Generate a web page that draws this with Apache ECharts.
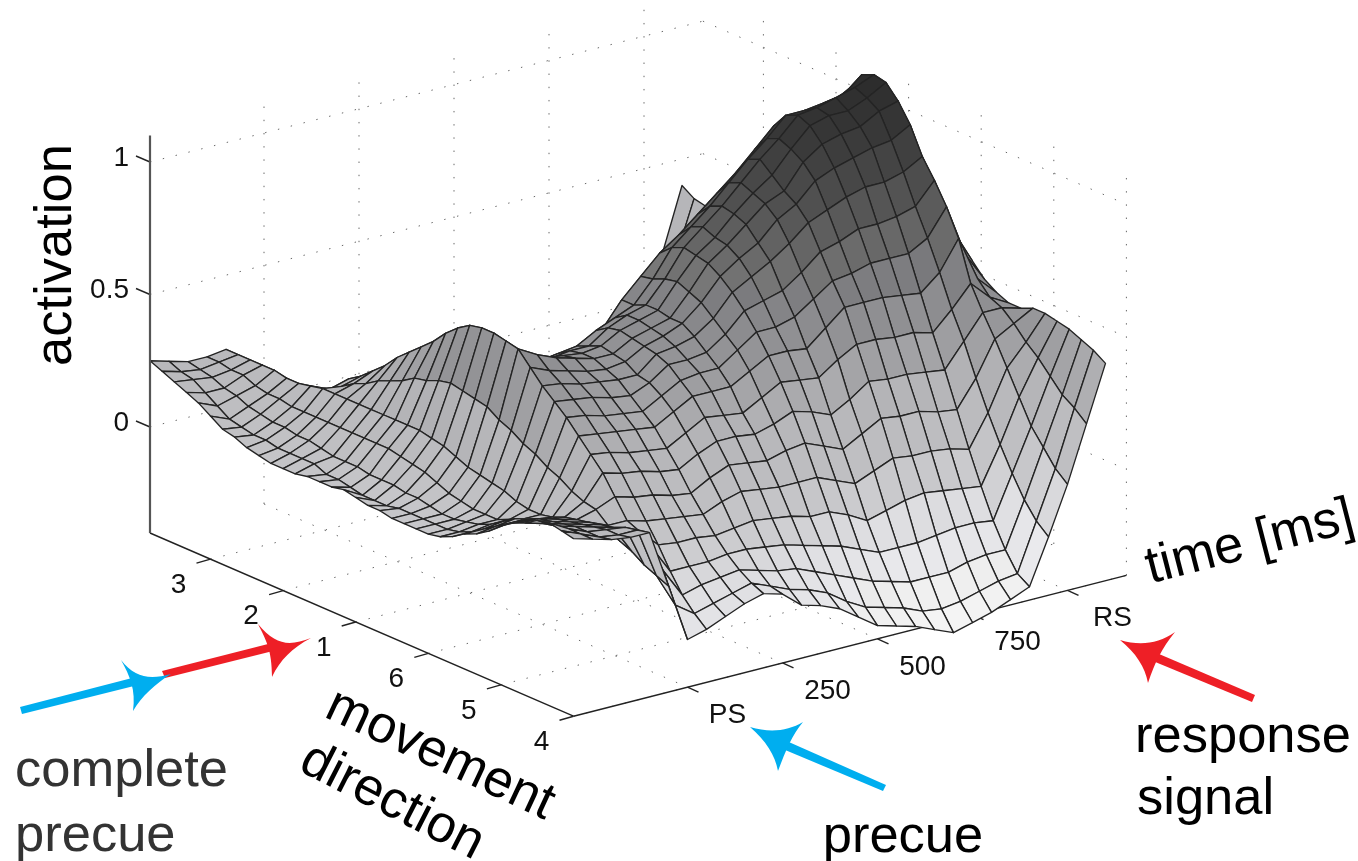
<!DOCTYPE html>
<html><head><meta charset="utf-8">
<style>html,body{margin:0;padding:0;background:#fff}#c{width:1358px;height:861px}</style>
<script src="https://cdn.jsdelivr.net/npm/echarts@6/dist/echarts.min.js"></script>
</head><body><div id="c"></div>
<script>
// activation x 100; one row per movement-direction step (36), one column per 50 ms time bin (29, from -300 ms)
const d00=[25,23,21,21,22,14,9,2,0,-3,-6,-6,-5,-3,-1,2,3,2,-2,-8,-14,-16,-15,-12,-7,0,8,17,40];
const d01=[23,21,20,21,22,14,7,2,1,-2,-4,-4,-3,-1,2,4,4,3,-2,-7,-12,-13,-11,-7,-2,4,10,16,37];
const d02=[21,20,19,20,22,13,6,2,2,1,-1,0,2,4,6,6,5,3,-2,-6,-10,-9,-6,-2,4,10,16,20,36];
const d03=[19,17,17,20,22,14,7,3,3,4,4,5,7,9,10,9,6,3,-2,-5,-7,-4,1,7,13,19,26,31,40];
const d04=[17,14,16,18,22,14,9,3,5,7,8,10,12,13,14,11,7,2,-3,-5,-3,2,9,15,22,28,34,40,46];
const d05=[14,11,14,17,21,15,12,6,8,10,12,14,16,16,15,12,7,2,0,0,2,7,14,21,27,33,39,45,51];
const d06=[11,10,13,17,21,16,16,10,12,14,16,18,20,20,17,12,6,4,4,6,11,16,23,30,36,42,47,53,59];
const d07=[10,9,12,16,22,19,21,14,16,18,20,22,23,22,16,10,6,6,7,11,17,24,30,37,43,49,55,61,67];
const d08=[8,9,12,16,23,22,24,18,20,23,25,26,26,20,15,10,8,8,12,17,24,31,37,44,50,57,63,69,75];
const d09=[7,8,11,16,23,25,28,22,24,26,28,28,26,21,14,12,12,14,18,24,31,37,44,51,57,63,69,76,79];
const d10=[6,8,11,16,23,27,32,26,29,31,32,30,25,19,15,15,16,19,25,31,38,44,51,57,63,69,76,81,83];
const d11=[6,8,10,16,23,30,37,31,33,34,33,29,23,19,18,18,21,25,31,38,44,50,57,63,69,75,82,85,86];
const d12=[6,8,9,16,23,32,41,37,37,37,37,30,25,22,21,23,26,34,42,48,54,60,65,71,78,84,89,90,90];
const d13=[7,6,9,16,23,34,45,40,42,41,36,29,25,24,25,28,34,40,47,53,59,65,71,78,84,89,90,91,92];
const d14=[7,6,9,16,23,37,49,44,44,40,34,28,26,27,28,33,41,48,54,60,66,72,78,85,90,93,95,96,97];
const d15=[7,5,8,16,23,38,54,47,45,39,32,30,30,31,35,41,49,56,61,67,73,79,86,92,96,97,98,100,100];
const d16=[8,4,8,15,23,40,58,50,45,38,34,34,35,38,42,48,55,62,68,74,80,86,92,96,99,100,100,98,92];
const d17=[7,4,8,14,22,41,61,54,46,41,41,41,43,47,56,63,70,75,81,87,93,100,107,109,109,110,114,109,104];
const d18=[6,4,7,13,21,40,62,54,47,44,45,46,50,53,56,64,74,80,86,93,100,106,113,113,114,115,121,115,102];
const d19=[6,5,7,11,19,39,62,53,48,47,48,48,53,56,58,66,76,82,88,95,102,108,115,116,118,120,123,111,96];
const d20=[5,5,6,9,17,38,61,54,51,50,49,50,54,56,58,67,75,80,87,93,98,106,113,115,115,118,122,106,85];
const d21=[5,5,5,8,16,35,60,56,53,51,49,49,53,55,57,65,74,79,85,91,94,103,108,110,111,115,117,97,78];
const d22=[5,5,5,7,15,33,55,52,50,48,47,48,52,54,57,63,71,76,80,87,91,98,101,103,105,106,110,88,68];
const d23=[5,5,6,7,14,30,50,49,47,46,45,45,51,52,54,59,67,71,75,80,86,89,92,94,94,96,100,80,63];
const d24=[6,6,7,7,12,28,46,45,44,42,41,44,49,49,50,55,62,64,66,71,77,79,82,82,83,85,93,72,59];
const d25=[8,8,9,9,11,25,42,41,39,38,37,41,45,46,46,51,56,56,58,63,68,69,71,71,71,75,85,65,54];
const d26=[11,11,12,11,11,23,37,36,35,34,33,37,41,41,41,45,49,49,48,54,60,60,60,59,58,64,75,58,51];
const d27=[13,14,15,13,12,20,32,31,29,28,27,31,35,34,33,37,41,40,39,44,48,48,47,47,45,52,60,53,49];
const d28=[16,17,17,15,14,18,27,25,24,22,21,25,28,28,27,29,32,30,27,31,36,35,35,34,33,42,51,51,49];
const d29=[20,20,19,17,15,17,20,18,17,15,14,18,21,20,19,21,22,19,16,20,24,23,23,21,20,30,43,47,51];
const d30=[23,22,20,18,16,13,13,11,10,9,8,11,13,12,11,11,11,8,5,8,11,10,10,9,7,19,34,42,51];
const d31=[25,23,21,19,17,9,11,4,3,3,2,3,4,3,2,0,0,-3,-7,-5,-3,-2,-3,-4,-5,9,25,38,50];
const d32=[28,24,22,20,18,7,7,-4,-4,-4,-3,-3,-4,-5,-7,-9,-11,-14,-17,-17,-17,-16,-15,-15,-16,0,16,33,49];
const d33=[29,25,22,21,20,4,0,-11,-9,-8,-7,-9,-11,-12,-15,-18,-21,-24,-26,-28,-28,-28,-26,-25,-25,-8,10,28,47];
const d34=[28,25,22,21,21,2,-11,-16,-14,-12,-10,-13,-16,-18,-21,-26,-30,-32,-34,-37,-38,-37,-35,-33,-32,-14,4,25,45];
const d35=[27,25,23,22,22,0,-22,-20,-17,-14,-12,-14,-20,-22,-25,-30,-35,-37,-39,-42,-45,-43,-41,-38,-35,-18,0,21,42];
const surface=[d00,d01,d02,d03,d04,d05,d06,d07,d08,d09,d10,d11,d12,d13,d14,d15,d16,d17,d18,d19,d20,d21,d22,d23,d24,d25,d26,d27,d28,d29,d30,d31,d32,d33,d34,d35];

const activationTicks=[0,0.5,1];
const activationLabels=['0','0.5','1'];
const timeTicksMs=[0,250,500,750,1000];
const timeLabels=['PS','250','500','750','RS'];
const directionTickSteps=[5,11,17,23,29,35];
const directionLabels=['3','2','1','6','5','4'];

// oblique projection of the 3-D box onto the plane of the hidden cartesian axes
const zMin=-0.4,zMax=1.1,stepMax=35,binMax=29.1;
function project(step,bin,a){
  return [150+12.1*step+19*bin, 533+5.235*step-4.84*bin-(a-zMin)*265];
}
const binOf=ms=>(ms+300)/50;

const grayStops=[[-0.45,247],[-0.3,238],[-0.1,222],[0,204],[0.11,192],[0.3,180],[0.43,158],[0.6,134],[0.75,107],[0.91,80],[1.1,55],[1.24,42]];
function grayOf(a){
  let g=grayStops[0][1];
  if(a>=grayStops[grayStops.length-1][0]) g=grayStops[grayStops.length-1][1];
  else for(let k=0;k<grayStops.length-1;k++){
    const p=grayStops[k],q=grayStops[k+1];
    if(a>=p[0]&&a<=q[0]){g=p[1]+(q[1]-p[1])*(a-p[0])/(q[0]-p[0]);break;}
  }
  g=Math.round(g);
  return 'rgb('+g+','+g+','+(g+(g>120&&g<235?3:0))+')';
}

// surface cells, far to near
const cells=[];
for(let i=0;i<35;i++) for(let j=27;j>=0;j--) cells.push([i,j]);

// frame segments
const dotted=[],solid=[];
activationTicks.forEach(a=>{
  dotted.push([[0,0,a],[0,binMax,a]]);
  dotted.push([[0,binMax,a],[stepMax,binMax,a]]);
});
timeTicksMs.forEach(ms=>{
  const b=binOf(ms);
  dotted.push([[0,b,zMin],[0,b,zMax]]);
  dotted.push([[0,b,zMin],[stepMax,b,zMin]]);
});
directionTickSteps.forEach(s=>{
  dotted.push([[s,binMax,zMin],[s,binMax,zMax]]);
  dotted.push([[s,0,zMin],[s,binMax,zMin]]);
});
solid.push([[0,0,zMin],[stepMax,0,zMin]]);
solid.push([[stepMax,0,zMin],[stepMax,binMax,zMin]]);

const labelFont='28px "Liberation Sans", Arial, sans-serif';
const bigFont='52.5px "Liberation Sans", Arial, sans-serif';

const tickItems=[];
activationTicks.forEach((a,k)=>tickItems.push({p:[0,0,a],tick:[-14,-6],off:[-21,-4],text:activationLabels[k],align:'right'}));
timeTicksMs.forEach((ms,k)=>tickItems.push({p:[stepMax,binOf(ms),zMin],tick:[11,5],off:[k===0?40:45,28],text:timeLabels[k],align:'center'}));
directionTickSteps.forEach((s,k)=>tickItems.push({p:[s,0,zMin],tick:[-14,4],off:[-32,26],text:directionLabels[k],align:'center'}));

function lineItem(api,seg,style){
  const a=api.coord(project(seg[0][0],seg[0][1],seg[0][2]));
  const b=api.coord(project(seg[1][0],seg[1][1],seg[1][2]));
  return {type:'line',shape:{x1:a[0],y1:a[1],x2:b[0],y2:b[1]},style:style};
}

function bigText(text,x,y,deg,fill,align){
  return {type:'text',x:x,y:y,rotation:deg*Math.PI/180,z:20,silent:true,
    style:{text:text,font:bigFont,fill:fill||'#000',align:align||'center',verticalAlign:'middle'}};
}
const red='#ee1f26',blue='#00aeef';
const arrowPaths=[
  ['M162 671 L272 643 L273 651 L165 678 Z',red],
  ['M311 638 C290 646 276 646 258 624 C266 640 272 650 272 677 C280 660 292 648 311 638 Z',red],
  ['M20 707 L136 677 L138 685 L22 714 Z',blue],
  ['M171 674 C150 680 135 678 121 660 C130 676 136 690 133 711 C142 696 155 684 171 674 Z',blue],
  ['M886 785 L782 739 L778 747 L883 791 Z',blue],
  ['M750 727 C770 733 788 731 803 722 C792 735 786 750 778 771 C775 755 766 741 750 727 Z',blue],
  ['M1255 695 L1152 651 L1148 659 L1252 702 Z',red],
  ['M1120 640 C1140 646 1158 644 1175 632 C1162 648 1155 662 1148 683 C1145 667 1136 653 1120 640 Z',red]
];

const chart=echarts.init(document.getElementById('c'),null,{renderer:'canvas',width:1358,height:861});
chart.setOption({
  animation:false,
  backgroundColor:'#fff',
  grid:{left:0,right:0,top:0,bottom:0},
  xAxis:{type:'value',min:0,max:1358,show:false},
  yAxis:{type:'value',min:0,max:861,inverse:true,show:false},
  series:[
    {type:'custom',coordinateSystem:'cartesian2d',silent:true,z:1,clip:false,
      data:dotted.map((s,k)=>[k]),encode:{x:0,y:0},
      renderItem:(p,api)=>lineItem(api,dotted[api.value(0)],{stroke:'#666',lineWidth:1,lineDash:[1.4,11.8],fill:null})},
    {type:'custom',coordinateSystem:'cartesian2d',silent:true,z:2,clip:false,
      data:solid.map((s,k)=>[k]),encode:{x:0,y:0},
      renderItem:(p,api)=>lineItem(api,solid[api.value(0)],{stroke:'#222',lineWidth:1.4,fill:null})},
    {type:'custom',coordinateSystem:'cartesian2d',silent:true,z:2,clip:false,
      data:tickItems.map((s,k)=>[k]),encode:{x:0,y:0},
      renderItem:(p,api)=>{
        const t=tickItems[api.value(0)];
        const c=api.coord(project(t.p[0],t.p[1],t.p[2]));
        return {type:'group',children:[
          {type:'line',shape:{x1:c[0],y1:c[1],x2:c[0]+t.tick[0],y2:c[1]+t.tick[1]},style:{stroke:'#222',lineWidth:1.4,fill:null}},
          {type:'text',x:c[0]+t.off[0],y:c[1]+t.off[1],style:{text:t.text,font:labelFont,fill:'#111',align:t.align,verticalAlign:'middle'}}
        ]};
      }},
    {type:'custom',coordinateSystem:'cartesian2d',silent:true,z:3,clip:false,progressive:0,
      data:cells,encode:{x:0,y:1},
      renderItem:(p,api)=>{
        const i=api.value(0),j=api.value(1);
        const cs=[[i,j],[i+1,j],[i+1,j+1],[i,j+1]];
        let sum=0;
        const pts=cs.map(c=>{const a=surface[c[0]][c[1]]/100;sum+=a;return api.coord(project(c[0],c[1],a));});
        return {type:'polygon',z2:p.dataIndex,shape:{points:pts},
          style:{fill:grayOf(sum/4),stroke:'#242424',lineWidth:1.35,lineJoin:'round'}};
      }},
    {type:'custom',coordinateSystem:'cartesian2d',silent:true,z:4,clip:false,
      data:[[0]],encode:{x:0,y:0},
      renderItem:(p,api)=>lineItem(api,[[0,0,zMin],[0,0,zMax]],{stroke:'#555',lineWidth:2.2,fill:null})},
    {type:'custom',coordinateSystem:'cartesian2d',silent:true,z:15,clip:false,
      data:arrowPaths.map((s,k)=>[k]),encode:{x:0,y:0},
      renderItem:(p,api)=>{
        const a=arrowPaths[api.value(0)];
        return {type:'path',shape:{pathData:a[0]},style:{fill:a[1]}};
      }}
  ],
  graphic:{elements:[
    bigText('activation',57,255,90),
    bigText('time [ms]',1250,543,14.4),
    bigText('movement',440,755,-25),
    bigText('direction',392,802,-27),
    bigText('complete',15,772,0,'#333','left'),
    bigText('precue',15,837,0,'#333','left'),
    bigText('precue',903,838,0),
    bigText('response',1243,738,0),
    bigText('signal',1137,800,0,'#000','left')
  ]}
});
</script></body></html>
